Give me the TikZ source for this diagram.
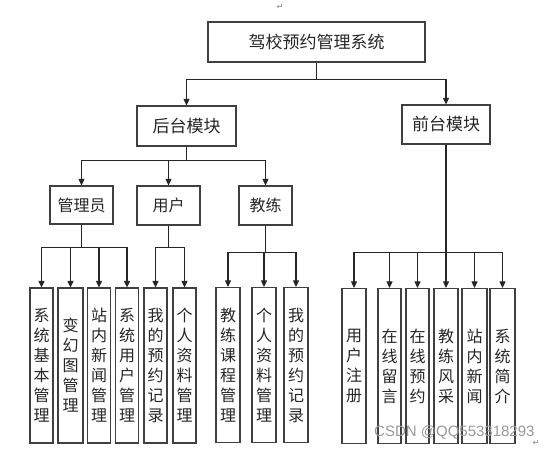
\documentclass[tikz,border=0pt]{standalone}
\usepackage{fontspec}
\newfontfamily\cjk{Noto Sans CJK SC}
\newfontfamily\wmfont{Liberation Sans}
\newfontfamily\symfont{DejaVu Sans}
\usetikzlibrary{arrows.meta}
\begin{document}
\begin{tikzpicture}[x=1pt,y=-1pt,
  box/.style={draw=black!75, line width=1.2pt, inner sep=0pt, text=black!85,
    font=\cjk\fontsize{16}{20}\selectfont, align=center},
  bigbox/.style={box, font=\cjk\fontsize{17}{20}\selectfont},
  leaf/.style={box, minimum width=23pt, minimum height=155pt},
  conn/.style={draw=black!85, line width=1.1pt},
  arr/.style={conn, -{Triangle[width=6pt,length=6.5pt]}},
]
\useasboundingbox[fill=white] (0,0) rectangle (551,450);

% top levels
\node[bigbox, minimum width=217pt, minimum height=40pt] (root) at (316.5,42) {驾校预约管理系统};
\node[bigbox, minimum width=99pt, minimum height=40pt] (back) at (186.5,126) {后台模块};
\node[bigbox, minimum width=88pt, minimum height=39pt] (front) at (446,124.5) {前台模块};

\node[box, minimum width=63pt, minimum height=38pt] (admin) at (81.5,205) {管理员};
\node[box, minimum width=63pt, minimum height=39pt] (user) at (168.5,205.5) {用户};
\node[box, minimum width=53pt, minimum height=39pt] (coach) at (265.5,205.5) {教练};

% leaves of admin
\node[leaf] (a1) at (41.5,365.5) {系\\统\\基\\本\\管\\理};
\node[leaf, minimum width=25pt] (a2) at (70.5,365.5) {变\\幻\\图\\管\\理};
\node[leaf] (a3) at (99,365.5) {站\\内\\新\\闻\\管\\理};
\node[leaf] (a4) at (127,365.5) {系\\统\\用\\户\\管\\理};
% leaves of user
\node[leaf] (u1) at (155.5,365.5) {我\\的\\预\\约\\记\\录};
\node[leaf] (u2) at (184.5,365.5) {个\\人\\资\\料\\管\\理};
% leaves of coach
\node[leaf, minimum width=24pt] (c1) at (228,365) {教\\练\\课\\程\\管\\理};
\node[leaf, minimum width=24pt] (c2) at (264,365) {个\\人\\资\\料\\管\\理};
\node[leaf, minimum width=24pt] (c3) at (296,365) {我\\的\\预\\约\\记\\录};
% leaves of front
\node[leaf, minimum width=24pt] (f1) at (354,366) {用\\户\\注\\册};
\node[leaf] (f2) at (389.5,366) {在\\线\\留\\言};
\node[leaf] (f3) at (417.5,366) {在\\线\\预\\约};
\node[leaf, minimum width=24pt] (f4) at (446,366) {教\\练\\风\\采};
\node[leaf, minimum width=25pt] (f5) at (474.5,366) {站\\内\\新\\闻};
\node[leaf, minimum width=25pt] (f6) at (502.5,366) {系\\统\\简\\介};

% connectors
\draw[arr] (root.south) -- ++(0,17) -| (back.north);
\draw[arr] (root.south) -- ++(0,17) -| (front.north);

\draw[arr] (back.south) -- ++(0,14) -| (admin.north);
\draw[arr] (back.south) -- ++(0,14) -| (user.north);
\draw[arr] (back.south) -- ++(0,14) -| (coach.north);

\foreach \c in {a1,a2,a3,a4}
  \draw[arr] (admin.south) -- ++(0,23) -| (\c.north);
\foreach \c in {u1,u2}
  \draw[arr] (user.south) -- ++(0,22) -| (\c.north);
\foreach \c in {c1,c2,c3}
  \draw[arr] (coach.south) -- ++(0,27) -| (\c.north);
\foreach \c in {f1,f2,f3,f4,f5,f6}
  \draw[arr] (front.south) -- ++(0,108) -| (\c.north);

% watermark and paragraph marks
\node[font=\wmfont\fontsize{15}{15}\selectfont, text=black!40, anchor=base west, inner sep=0pt] (wm) at (374,436.5) {CSDN @QQ553318293};
\node[font=\symfont\fontsize{8}{8}\selectfont, text=black!50, inner sep=0pt] (pm1) at (280,7) {↵};
\node[font=\symfont\fontsize{8}{8}\selectfont, text=black!50, inner sep=0pt] (pm2) at (536,443) {↵};
\end{tikzpicture}
\end{document}
